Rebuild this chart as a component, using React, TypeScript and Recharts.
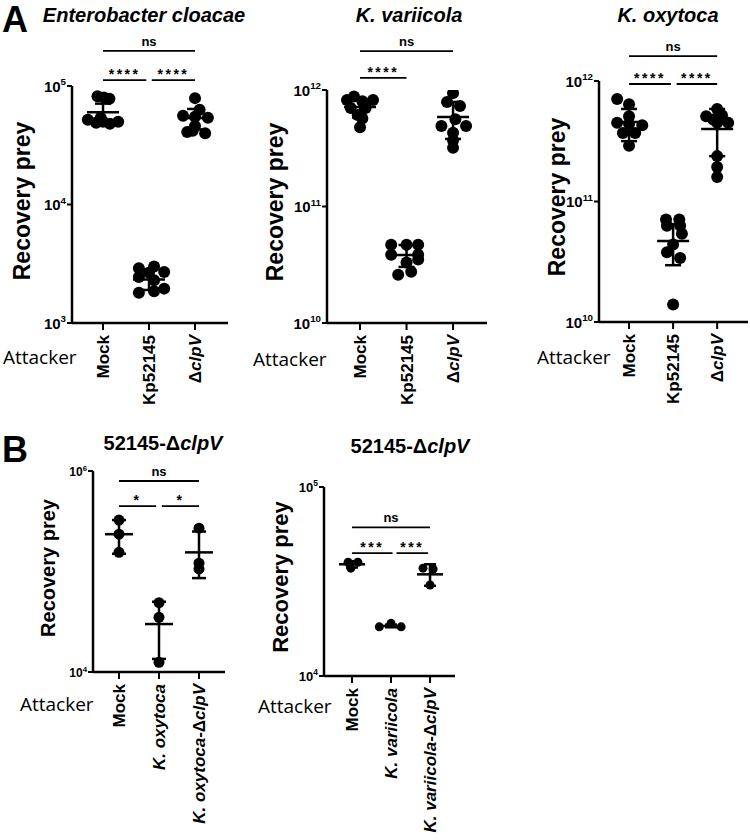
import React from 'react';
import { ScatterChart, Scatter, XAxis, YAxis, ErrorBar, ReferenceLine } from 'recharts';

const FONT = '"Liberation Sans", Arial, sans-serif';

// ---- A: Enterobacter cloacae
const ecCats = ['Mock', 'Kp52145', 'ΔclpV'];
const ecValues = [
  [82000, 80000, 78000, 54000, 52000, 50000, 49000, 48000, 50000],
  [3000, 2900, 2700, 2650, 2450, 2300, 1950, 1850, 1800],
  [79000, 63000, 56000, 55000, 54000, 46000, 41000, 40000, 42000],
];
const ecJitter = [
  [-0.12, 0.02, 0.14, -0.05, -0.33, 0.33, -0.15, 0.15, 0.0],
  [0.11, -0.22, 0.33, 0.0, -0.22, 0.11, 0.33, 0.11, -0.22],
  [0.0, 0.1, -0.26, 0.0, 0.28, 0.0, -0.17, 0.22, -0.05],
];
const ecMean = [60000, 2330, 53700];
const ecLow = [49000, 1900, 43000];
const ecHigh = [71000, 2850, 64000];
const ecBrackets = [
  { from: 1, to: 3, y: 1.98e5, text: 'ns' },
  { from: 1, to: 1.94, y: 1.12e5, text: '****' },
  { from: 2.06, to: 3, y: 1.12e5, text: '****' },
];

// ---- A: K. variicola
const kvCats = ['Mock', 'Kp52145', 'ΔclpV'];
const kvValues = [
  [8.8e11, 8.2e11, 8.2e11, 8.0e11, 7.0e11, 7.0e11, 6.1e11, 5.7e11, 4.8e11],
  [4.7e10, 4.7e10, 4.7e10, 3.85e10, 3.85e10, 3.5e10, 3.3e10, 2.75e10, 2.6e10],
  [9.4e11, 7.9e11, 7.3e11, 5.6e11, 4.9e11, 4.9e11, 4.3e11, 3.7e11, 3.2e11],
];
const kvJitter = [
  [-0.13, -0.28, 0.28, 0.05, -0.2, 0.12, -0.05, 0.05, 0.0],
  [-0.33, 0.0, 0.25, -0.33, 0.25, 0.25, 0.0, 0.1, -0.18],
  [0.0, -0.13, 0.15, 0.05, -0.25, 0.28, 0.0, 0.0, 0.0],
];
const kvMean = [7.15e11, 3.84e10, 5.86e11];
const kvLow = [5.8e11, 3.03e10, 3.8e11];
const kvHigh = [8.3e11, 4.67e10, 7.9e11];
const kvBrackets = [
  { from: 1, to: 3, y: 2.16e12, text: 'ns' },
  { from: 1, to: 2, y: 1.27e12, text: '****' },
];

// ---- A: K. oxytoca
const koCats = ['Mock', 'Kp52145', 'ΔclpV'];
const koValues = [
  [7.1e11, 6.4e11, 5.1e11, 4.5e11, 4.4e11, 4.3e11, 3.7e11, 3.7e11, 2.9e11],
  [7.1e10, 7.1e10, 6.3e10, 6.3e10, 5.4e10, 4.4e10, 3.8e10, 3.4e10, 1.4e10],
  [5.86e11, 5.2e11, 5.1e11, 4.8e11, 4.5e11, 4.5e11, 2.38e11, 1.93e11, 1.6e11],
];
const koJitter = [
  [-0.27, 0.0, 0.0, -0.27, 0.0, 0.3, -0.14, 0.14, 0.0],
  [-0.16, 0.14, -0.14, 0.16, 0.2, 0.0, -0.14, 0.16, 0.0],
  [0.0, 0.11, -0.25, -0.09, 0.25, 0.0, 0.0, 0.0, 0.0],
];
const koMean = [4.56e11, 4.7e10, 4.0e11];
const koLow = [3.17e11, 2.96e10, 2.38e11];
const koHigh = [5.86e11, 6.5e10, 5.86e11];
const koBrackets = [
  { from: 1, to: 3, y: 1.61e12, text: 'ns' },
  { from: 1, to: 1.95, y: 9.44e11, text: '****' },
  { from: 2.08, to: 3, y: 9.44e11, text: '****' },
];

// ---- B: 52145-ΔclpV vs K. oxytoca
const bOxCats = ['Mock', 'K. oxytoca', 'K. oxytoca-ΔclpV'];
const bOxValues = [
  [3.25e5, 2.35e5, 1.55e5],
  [4.9e4, 3.5e4, 1.25e4],
  [2.7e5, 1.21e5, 1.06e5],
];
const bOxJitter = [[0, 0, 0], [0, 0, 0], [0, 0, 0]];
const bOxMean = [2.35e5, 3.0e4, 1.55e5];
const bOxLow = [1.5e5, 1.35e4, 8.6e4];
const bOxHigh = [3.25e5, 5.0e4, 2.5e5];
const bOxBrackets = [
  { from: 1, to: 3, y: 7.95e5, text: 'ns' },
  { from: 1, to: 1.93, y: 4.48e5, text: '*' },
  { from: 2.07, to: 3, y: 4.48e5, text: '*' },
];

// ---- B: 52145-ΔclpV vs K. variicola
const bVaCats = ['Mock', 'K. variicola', 'K. variicola-ΔclpV'];
const bVaValues = [
  [4.0e4, 4.0e4, 3.72e4],
  [1.82e4, 1.9e4, 1.82e4],
  [3.72e4, 3.68e4, 3.03e4],
];
const bVaJitter = [[-0.1, 0.15, -0.03], [-0.3, 0, 0.26], [-0.18, 0.08, 0]];
const bVaMean = [3.9e4, 1.84e4, 3.45e4];
const bVaLow = [3.75e4, 1.81e4, 3.0e4];
const bVaHigh = [4.05e4, 1.87e4, 3.9e4];
const bVaBrackets = [
  { from: 1, to: 3, y: 6.12e4, text: 'ns' },
  { from: 1, to: 2.04, y: 4.47e4, text: '***' },
  { from: 2.14, to: 2.95, y: 4.47e4, text: '***' },
];

const ITALIC = /(K\. [a-z]+|clpV)/;
const rich = (label: string) =>
  label.split(ITALIC).filter(Boolean).map((s, i) => (
    <tspan key={i} fontStyle={ITALIC.test(s) ? 'italic' : 'normal'}>{s}</tspan>
  ));

type Bracket = { from: number; to: number; y: number; text: string };

type PanelProps = {
  box: [number, number, number, number];
  cats: string[];
  values: number[][];
  jitter: number[][];
  mean: number[];
  low: number[];
  high: number[];
  yDomain: [number, number];
  yTicks: number[];
  xDomain: [number, number];
  brackets: Bracket[];
  dotR: number;
  meanHalf: number;
  capHalf: number;
  catFont: number;
  tickFont: number;
};

const Panel = (p: PanelProps) => {
  const [l, t, r, b] = p.box;
  const width = r - l + 62;
  const height = b - t + 230;
  const dots = p.values.flatMap((g, i) => g.map((v, j) => ({ x: i + 1 + p.jitter[i][j], y: v })));
  const summary = p.mean.map((m, i) => ({ x: i + 1, y: m, err: [m - p.low[i], p.high[i] - m] }));

  const YTick = ({ x, y, payload }: any) => {
    const e = Math.round(Math.log10(payload.value));
    return (
      <text x={x} y={y + p.tickFont * 0.38} textAnchor="end" fontFamily={FONT} fontWeight={700} fontSize={p.tickFont} fill="#000">
        <tspan>10</tspan>
        <tspan dy={-p.tickFont * 0.42} fontSize={p.tickFont * 0.65}>{e}</tspan>
      </text>
    );
  };

  const XTick = ({ x, y, payload }: any) => (
    <text
      transform={`translate(${x + 6},${y + 3}) rotate(-90)`}
      textAnchor="end"
      fontFamily={FONT}
      fontWeight={700}
      fontSize={p.catFont}
      fill="#000"
    >
      {rich(p.cats[payload.value - 1])}
    </text>
  );

  return (
    <div style={{ position: 'absolute', left: l - 60, top: t - 60 }}>
      <ScatterChart width={width} height={height} margin={{ top: 60, left: 20, right: 2, bottom: 140 }}>
        <XAxis
          type="number"
          dataKey="x"
          domain={p.xDomain}
          ticks={[1, 2, 3]}
          allowDataOverflow
          height={30}
          tick={<XTick />}
          tickSize={7}
          axisLine={{ stroke: '#000', strokeWidth: 2.5 }}
          tickLine={{ stroke: '#000', strokeWidth: 2 }}
        />
        <YAxis
          type="number"
          dataKey="y"
          scale="log"
          domain={p.yDomain}
          ticks={p.yTicks}
          allowDataOverflow
          width={40}
          tick={<YTick />}
          tickSize={5}
          tickMargin={1}
          axisLine={{ stroke: '#000', strokeWidth: 2.5 }}
          tickLine={{ stroke: '#000', strokeWidth: 2 }}
        />
        {p.brackets.map((br, i) => (
          <ReferenceLine
            key={i}
            segment={[{ x: br.from, y: br.y }, { x: br.to, y: br.y }]}
            stroke="#000"
            strokeWidth={1.8}
            ifOverflow="visible"
            label={{
              value: br.text,
              position: 'top',
              offset: br.text === 'ns' ? 5 : 1,
              fontSize: br.text === 'ns' ? 13 : 14,
              fontWeight: 700,
              fill: '#000',
              fontFamily: FONT,
              letterSpacing: br.text === 'ns' ? 0 : 2.5,
            }}
          />
        ))}
        <Scatter
          data={dots}
          isAnimationActive={false}
          shape={(s: any) => <circle cx={s.cx} cy={s.cy} r={p.dotR} fill="#000" />}
        />
        <Scatter
          data={summary}
          isAnimationActive={false}
          shape={(s: any) => (
            <line x1={s.cx - p.meanHalf} x2={s.cx + p.meanHalf} y1={s.cy} y2={s.cy} stroke="#000" strokeWidth={2.5} />
          )}
        >
          <ErrorBar dataKey="err" direction="y" width={p.capHalf} stroke="#000" strokeWidth={2.5} isAnimationActive={false} />
        </Scatter>
      </ScatterChart>
    </div>
  );
};

const YLabel = ({ x, y, size }: { x: number; y: number; size: number }) => (
  <text transform={`translate(${x},${y}) rotate(-90)`} textAnchor="middle" fontFamily={FONT} fontWeight={700} fontSize={size} fill="#000">
    Recovery prey
  </text>
);

const Attacker = ({ x, y }: { x: number; y: number }) => (
  <text x={x} y={y} fontFamily='"Open Sans", sans-serif' fontSize={19} fill="#000">Attacker</text>
);

export default function App() {
  return (
    <div style={{ position: 'absolute', left: 0, top: 0, width: 750, height: 840, overflow: 'hidden', background: '#fff' }}>
      <Panel box={[72, 86, 228, 323]} cats={ecCats} values={ecValues} jitter={ecJitter} mean={ecMean} low={ecLow} high={ecHigh}
        yDomain={[1e3, 1e5]} yTicks={[1e3, 1e4, 1e5]} xDomain={[0.326, 3.717]} brackets={ecBrackets} dotR={6} meanHalf={16} capHalf={8} catFont={17} tickFont={15} />
      <Panel box={[327, 90, 487, 323]} cats={kvCats} values={kvValues} jitter={kvJitter} mean={kvMean} low={kvLow} high={kvHigh}
        yDomain={[1e10, 1e12]} yTicks={[1e10, 1e11, 1e12]} xDomain={[0.29, 3.73]} brackets={kvBrackets} dotR={6} meanHalf={16} capHalf={8} catFont={17} tickFont={15} />
      <Panel box={[599, 81, 748, 322]} cats={koCats} values={koValues} jitter={koJitter} mean={koMean} low={koLow} high={koHigh}
        yDomain={[1e10, 1e12]} yTicks={[1e10, 1e11, 1e12]} xDomain={[0.318, 3.7]} brackets={koBrackets} dotR={6} meanHalf={16} capHalf={8} catFont={17} tickFont={15} />
      <Panel box={[93, 471, 225, 672]} cats={bOxCats} values={bOxValues} jitter={bOxJitter} mean={bOxMean} low={bOxLow} high={bOxHigh}
        yDomain={[1e4, 1e6]} yTicks={[1e4, 1e6]} xDomain={[0.35, 3.65]} brackets={bOxBrackets} dotR={5.5} meanHalf={14} capHalf={7} catFont={17} tickFont={12} />
      <Panel box={[324, 487, 455, 676]} cats={bVaCats} values={bVaValues} jitter={bVaJitter} mean={bVaMean} low={bVaLow} high={bVaHigh}
        yDomain={[1e4, 1e5]} yTicks={[1e4, 1e5]} xDomain={[0.282, 3.64]} brackets={bVaBrackets} dotR={4.5} meanHalf={13} capHalf={6} catFont={17} tickFont={13} />

      <svg width={750} height={840} style={{ position: 'absolute', left: 0, top: 0, pointerEvents: 'none' }}>
        <text x={2} y={32} fontFamily={FONT} fontWeight={700} fontSize={36} fill="#000">A</text>
        <text x={2} y={462} fontFamily={FONT} fontWeight={700} fontSize={36} fill="#000">B</text>

        <text x={144} y={22} textAnchor="middle" fontFamily={FONT} fontWeight={700} fontStyle="italic" fontSize={20} fill="#000">Enterobacter cloacae</text>
        <text x={409} y={22} textAnchor="middle" fontFamily={FONT} fontWeight={700} fontStyle="italic" fontSize={20} fill="#000">K. variicola</text>
        <text x={668} y={22} textAnchor="middle" fontFamily={FONT} fontWeight={700} fontStyle="italic" fontSize={20} fill="#000">K. oxytoca</text>
        <text x={163} y={450} textAnchor="middle" fontFamily={FONT} fontWeight={700} fontSize={20} fill="#000">{rich('52145-ΔclpV')}</text>
        <text x={410} y={453} textAnchor="middle" fontFamily={FONT} fontWeight={700} fontSize={20} fill="#000">{rich('52145-ΔclpV')}</text>

        <YLabel x={30} y={201} size={23} />
        <YLabel x={283} y={202} size={23} />
        <YLabel x={565} y={197} size={23} />
        <YLabel x={55} y={568} size={20} />
        <YLabel x={288} y={577} size={22} />

        <Attacker x={3} y={364} />
        <Attacker x={253} y={366} />
        <Attacker x={537} y={364} />
        <Attacker x={20} y={711} />
        <Attacker x={258} y={713} />
      </svg>
    </div>
  );
}
